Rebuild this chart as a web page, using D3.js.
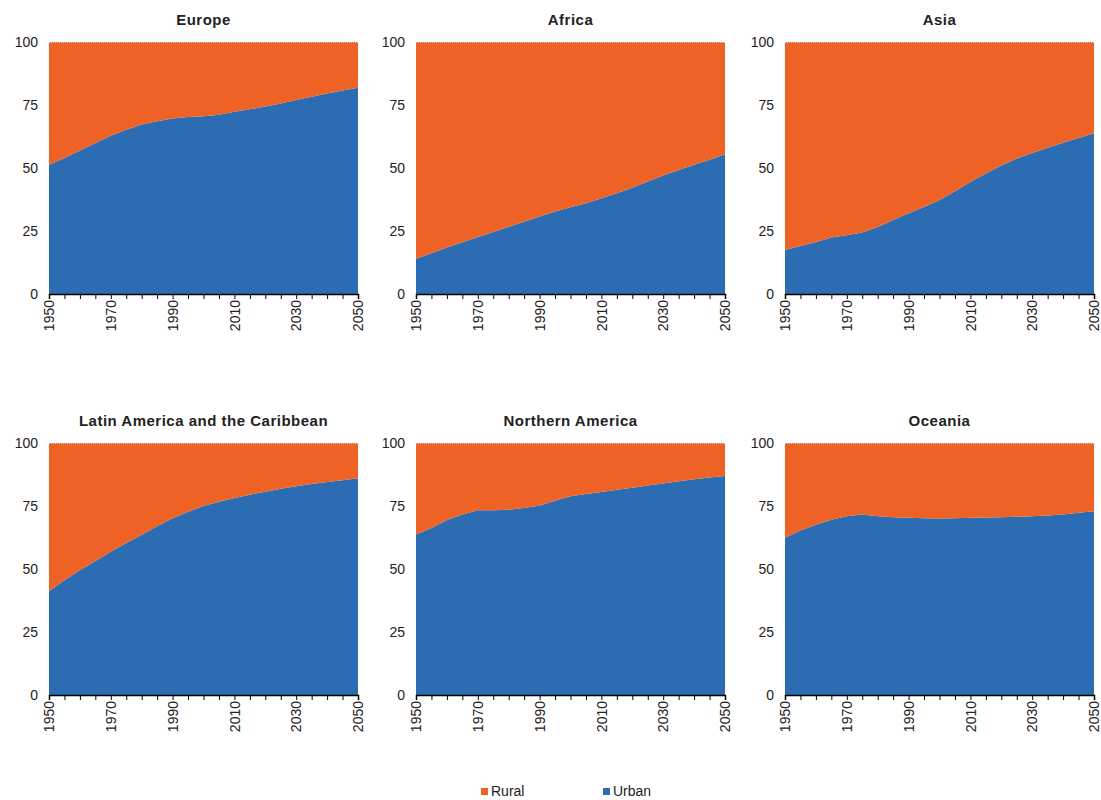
<!DOCTYPE html>
<html>
<head>
<meta charset="utf-8">
<script src="https://cdn.jsdelivr.net/npm/d3@7"></script>
<style>
  body { margin: 0; background: #fff; }
  text { font-family: "Liberation Sans", Arial, sans-serif; }
</style>
</head>
<body>
<script>
var years = d3.range(1950, 2051, 5);
var regions = ["Europe", "Africa", "Asia", "Latin America and the Caribbean", "Northern America", "Oceania"];

// percent urban, every five years 1950-2050
var europeUrban   = [51.3, 54.0, 56.9, 59.9, 62.8, 65.2, 67.3, 68.6, 69.6, 70.2, 70.5, 71.1, 72.3, 73.3, 74.4, 75.6, 77.0, 78.3, 79.6, 80.8, 81.8];
var africaUrban   = [14.0, 16.2, 18.5, 20.5, 22.6, 24.6, 26.7, 28.7, 30.8, 32.7, 34.4, 36.0, 38.0, 40.0, 42.2, 44.6, 47.0, 49.2, 51.3, 53.3, 55.5];
var asiaUrban     = [17.5, 19.0, 20.6, 22.4, 23.3, 24.4, 26.6, 29.4, 32.0, 34.5, 37.3, 40.8, 44.4, 47.8, 51.0, 53.8, 56.0, 58.0, 60.0, 61.9, 63.8];
var latinUrban    = [41.2, 45.5, 49.5, 53.2, 56.8, 60.3, 63.6, 67.0, 70.1, 72.7, 75.0, 76.7, 78.2, 79.5, 80.7, 81.8, 82.8, 83.7, 84.5, 85.2, 86.0];
var northAmUrban  = [63.7, 66.3, 69.4, 71.6, 73.3, 73.3, 73.5, 74.2, 75.2, 77.1, 78.9, 79.8, 80.6, 81.4, 82.2, 83.1, 83.9, 84.8, 85.6, 86.3, 86.9];
var oceaniaUrban  = [62.4, 65.3, 67.6, 69.5, 70.9, 71.6, 70.9, 70.5, 70.3, 70.1, 70.0, 70.1, 70.3, 70.4, 70.5, 70.7, 70.9, 71.2, 71.6, 72.3, 72.9];
var urbanSeries = [europeUrban, africaUrban, asiaUrban, latinUrban, northAmUrban, oceaniaUrban];

var yTicks = [0, 25, 50, 75, 100];
var xLabels = [1950, 1970, 1990, 2010, 2030, 2050];

var colors = { rural: "#EE6325", urban: "#2B6CB3" };

var width = 1101, height = 800;
var pw = 309, ph = 252;
var lefts = [49, 416, 785];
var tops = [42, 443];

var svg = d3.select("body").append("svg")
  .attr("width", width)
  .attr("height", height);

var x = d3.scaleLinear().domain([1950, 2050]).range([0, pw]);
var y = d3.scaleLinear().domain([0, 100]).range([ph, 0]);

var stack = d3.stack().keys(["urban", "rural"]);
var area = d3.area()
  .x(function(d) { return x(d.data.year); })
  .y0(function(d) { return y(d[0]); })
  .y1(function(d) { return y(d[1]); });

regions.forEach(function(name, i) {
  var col = i % 3, row = Math.floor(i / 3);
  var g = svg.append("g")
    .attr("transform", "translate(" + lefts[col] + "," + tops[row] + ")");

  var rows = years.map(function(yr, j) {
    return { year: yr, urban: urbanSeries[i][j], rural: 100 - urbanSeries[i][j] };
  });
  var layers = stack(rows);

  g.selectAll("path.layer").data(layers).enter().append("path")
    .attr("class", "layer")
    .attr("d", area)
    .attr("fill", function(d) { return colors[d.key]; });

  // dotted line at 100
  g.append("line")
    .attr("x1", 0).attr("x2", pw)
    .attr("y1", y(100) + 0.5).attr("y2", y(100) + 0.5)
    .attr("stroke", "#d0d0d0")
    .attr("stroke-dasharray", "1,1");

  g.append("text")
    .attr("x", pw / 2)
    .attr("y", -17)
    .attr("text-anchor", "middle")
    .style("font-size", "15px")
    .style("font-weight", "bold")
    .style("letter-spacing", "0.5px")
    .style("fill", "#222")
    .text(name);

  // y axis labels only
  var yAxis = d3.axisLeft(y).tickValues(yTicks).tickSize(0).tickPadding(11);
  var ya = g.append("g").call(yAxis);
  ya.select(".domain").remove();
  ya.selectAll("text").style("font-size", "14px").style("fill", "#222");

  // x axis with 5-year ticks
  var xAxis = d3.axisBottom(x).tickValues(years).tickSize(5).tickFormat(function(d) {
    return xLabels.indexOf(d) >= 0 ? d : "";
  });
  var xa = g.append("g").attr("transform", "translate(0," + ph + ")").call(xAxis);
  xa.select(".domain").attr("stroke", "#000").attr("stroke-width", 1.5);
  xa.selectAll(".tick line").attr("stroke", "#000");
  xa.selectAll("text")
    .style("font-size", "14px")
    .style("fill", "#222")
    .attr("transform", "rotate(-90)")
    .attr("text-anchor", "end")
    .attr("dy", "0.33em")
    .attr("x", -6)
    .attr("y", 0);
});

// legend
var legendItems = [{ label: "Rural", color: colors.rural, x: 481 }, { label: "Urban", color: colors.urban, x: 603 }];
var legend = svg.append("g");
legendItems.forEach(function(d) {
  legend.append("rect")
    .attr("x", d.x).attr("y", 788)
    .attr("width", 7).attr("height", 7)
    .attr("fill", d.color);
  legend.append("text")
    .attr("x", d.x + 10).attr("y", 796)
    .style("font-size", "14px")
    .style("fill", "#222")
    .text(d.label);
});
</script>
</body>
</html>
